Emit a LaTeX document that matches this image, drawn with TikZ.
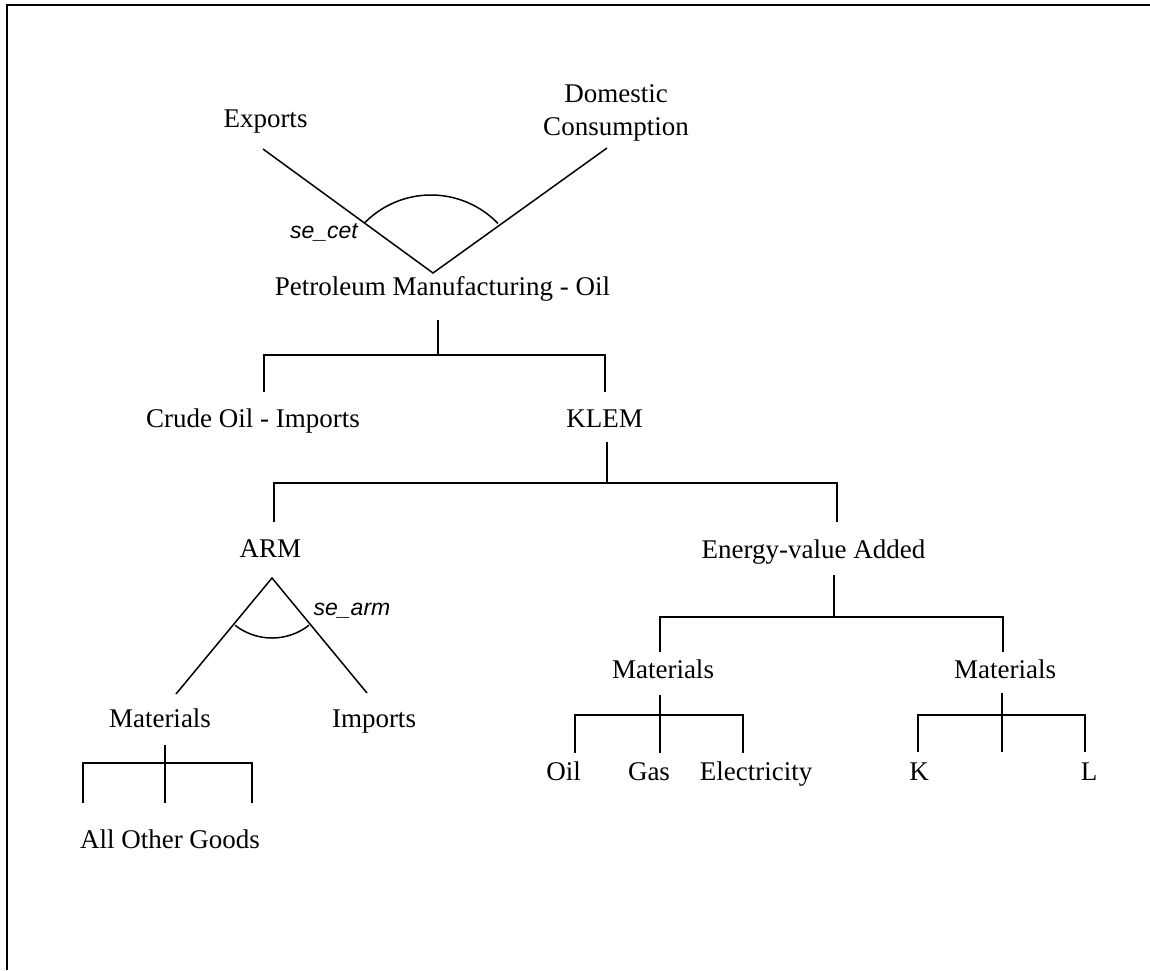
\documentclass[tikz,border=0pt]{standalone}
\usepackage{fontspec}
\setmainfont{Liberation Serif}
\newfontfamily\elasfont{Liberation Sans}
\begin{document}
\begin{tikzpicture}[x=1pt,y=-1pt,
  lbl/.style={font=\fontsize{27}{32}\selectfont, inner sep=0pt, anchor=base},
  elas/.style={font=\elasfont\itshape\fontsize{23}{27}\selectfont, inner sep=0pt, anchor=base},
  conn/.style={line width=1.5pt, line cap=butt, line join=miter},
  frameline/.style={line width=2pt}]
\useasboundingbox (0,0) rectangle (1150,970);
\draw[frameline] (7,970) -- (7,5) -- (1150,5);

% --- top CET nest
\node[lbl] (exports) at (265.5,127) {Exports};
\node[lbl] (domestic) at (616,102) {Domestic};
\node[lbl] (consumption) at (616,135) {Consumption};
\node[lbl] (petro) at (442.5,295) {Petroleum Manufacturing - Oil};
\node[elas] (secet) at (324,238) {se\_cet};
\coordinate (cetapex) at (433,273);
\coordinate (exportsend) at (263,149);
\coordinate (domend) at (607,148);
\draw[conn] (exportsend) -- (cetapex) -- (domend);
\coordinate (cetarc) at (431,288);
\draw[conn] ([shift={(-135:93)}]cetarc) arc[start angle=-135,end angle=-44,radius=93];

% --- petroleum split
\node[lbl] (crude) at (253,427) {Crude Oil - Imports};
\node[lbl] (klem) at (604.5,427) {KLEM};
\coordinate (petrodown) at (438,320);
\coordinate (petrobar) at (438,355);
\draw[conn] (petrodown) -- (petrobar);
\coordinate (crudeup) at (264,392);
\coordinate (klemup) at (605,392);
\draw[conn] (crudeup) -- (264,355) -- (605,355) -- (klemup);

% --- KLEM split
\node[lbl] (arm) at (270.5,557) {ARM};
\node[lbl] (energy) at (813.5,558) {Energy-value Added};
\coordinate (klemdown) at (607,442);
\draw[conn] (klemdown) -- (607,483);
\coordinate (armup) at (274,522);
\coordinate (energyup) at (837,522);
\draw[conn] (armup) -- (274,483) -- (837,483) -- (energyup);

% --- ARM nest
\node[lbl] (matl) at (160,727) {Materials};
\node[lbl] (imports) at (374,727) {Imports};
\node[elas] (searm) at (352,615) {se\_arm};
\coordinate (armapex) at (272,578);
\coordinate (matlend) at (176,694);
\coordinate (impend) at (367,693);
\draw[conn] (matlend) -- (armapex) -- (impend);
\draw[conn] ([shift={(128:60)}]armapex) arc[start angle=128,end angle=52,radius=60];

% --- Materials (left) split
\node[lbl] (allother) at (170,848) {All Other Goods};
\coordinate (matldown) at (165,745);
\draw[conn] (matldown) -- (165,803);
\draw[conn] (83,803) -- (83,763) -- (252,763) -- (252,803);

% --- Energy-value Added split
\node[lbl] (matm) at (663,678) {Materials};
\node[lbl] (matr) at (1005,678) {Materials};
\coordinate (energydown) at (834,575);
\draw[conn] (energydown) -- (834,617);
\coordinate (matmup) at (660,652);
\coordinate (matrup) at (1003,652);
\draw[conn] (matmup) -- (660,617) -- (1003,617) -- (matrup);

% --- middle Materials split
\node[lbl] (oil) at (563.5,780) {Oil};
\node[lbl] (gas) at (649,780) {Gas};
\node[lbl] (elec) at (756,780) {Electricity};
\coordinate (matmdown) at (660,695);
\draw[conn] (matmdown) -- (660,753);
\draw[conn] (575,753) -- (575,715) -- (743,715) -- (743,753);

% --- right Materials split
\node[lbl] (kk) at (919,780) {K};
\node[lbl] (ll) at (1089,780) {L};
\coordinate (matrdown) at (1002,693);
\draw[conn] (matrdown) -- (1002,752);
\draw[conn] (918,752) -- (918,715) -- (1085,715) -- (1085,752);
\end{tikzpicture}
\end{document}
